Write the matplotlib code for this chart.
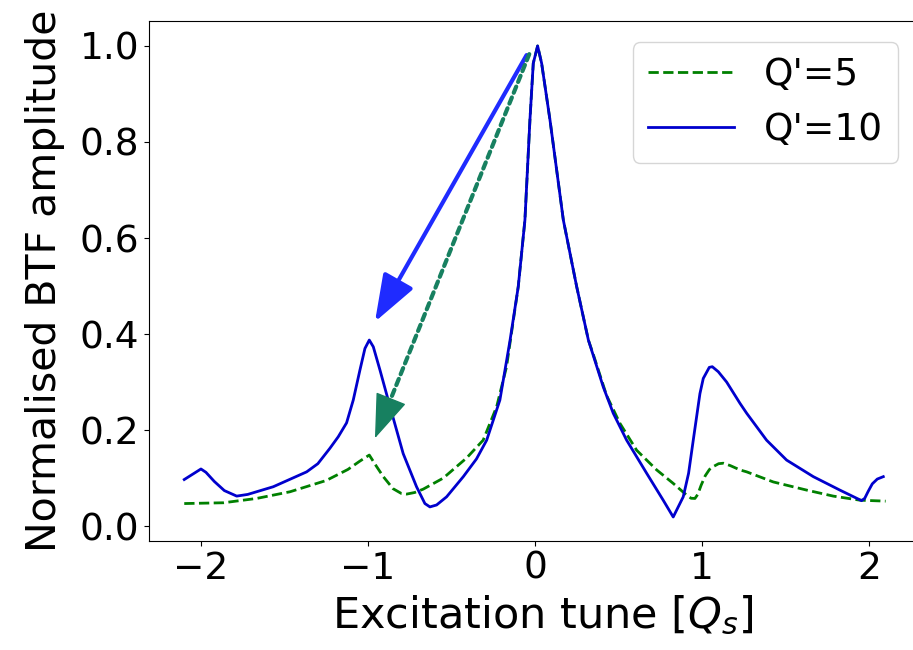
import matplotlib
matplotlib.use("Agg")
import matplotlib.pyplot as plt

# Q'=10 (solid blue)
tune_q10 = [-2.1, -2.05, -2.0, -1.97, -1.92, -1.86, -1.786, -1.72, -1.567,
            -1.367, -1.30, -1.228, -1.178, -1.128, -1.088, -1.048, -1.018,
            -0.992, -0.968, -0.928, -0.868, -0.789, -0.709, -0.659, -0.629,
            -0.589, -0.529, -0.429, -0.35, -0.289, -0.21, -0.15, -0.10,
            -0.06, -0.03, -0.01, 0.016, 0.04, 0.09, 0.17, 0.25, 0.32, 0.409,
            0.469, 0.549, 0.669, 0.768, 0.828, 0.888, 0.92, 0.948, 0.988,
            1.008, 1.044, 1.062, 1.098, 1.148, 1.228, 1.268, 1.387, 1.507,
            1.667, 1.826, 1.956, 1.975, 1.995, 2.02, 2.05, 2.086]
amp_q10 = [0.097, 0.108, 0.119, 0.112, 0.093, 0.074, 0.0625, 0.066, 0.082,
           0.113, 0.13, 0.162, 0.186, 0.215, 0.2625, 0.325, 0.370,
           0.3875, 0.3735, 0.325, 0.249, 0.151, 0.082, 0.047, 0.040,
           0.044, 0.061, 0.103, 0.14, 0.179, 0.2625, 0.385, 0.4986,
           0.6375, 0.846, 0.964, 1.0, 0.964, 0.846, 0.6375, 0.4986, 0.3875,
           0.29, 0.235, 0.179, 0.110, 0.054, 0.019, 0.061, 0.11, 0.179,
           0.276, 0.3076, 0.3306, 0.332, 0.3215, 0.300, 0.2556, 0.235, 0.179,
           0.1375, 0.103, 0.075, 0.053, 0.058, 0.072, 0.088, 0.098, 0.103]

# Q'=5 (dashed green)
tune_q5 = [-2.1, -1.866, -1.667, -1.467, -1.25, -1.12, -1.05, -0.992, -0.95,
           -0.908, -0.85, -0.80, -0.768, -0.72, -0.669, -0.549, -0.409,
           -0.31, -0.229, -0.17, -0.10, -0.06, -0.03, -0.01, 0.016, 0.04,
           0.09, 0.17, 0.25, 0.32, 0.349, 0.429, 0.509, 0.609, 0.729, 0.828,
           0.908, 0.935, 0.958, 0.975, 0.995, 1.02, 1.045, 1.068, 1.10, 1.128,
           1.17, 1.228, 1.268, 1.427, 1.627, 1.786, 1.946, 2.1]
amp_q5 = [0.047, 0.0486, 0.0576, 0.0715, 0.095, 0.118, 0.135, 0.148, 0.125,
          0.103, 0.078, 0.068, 0.0667, 0.070, 0.077, 0.100, 0.142,
          0.179, 0.249, 0.332, 0.4986, 0.6375, 0.846, 0.964, 1.0, 0.964,
          0.846, 0.6375, 0.4986, 0.3875, 0.358, 0.272, 0.214, 0.158, 0.117,
          0.089, 0.0646, 0.058, 0.0576, 0.066, 0.085, 0.105, 0.118, 0.124,
          0.13, 0.131, 0.126, 0.117, 0.113, 0.092, 0.075, 0.0625, 0.054,
          0.052]

# arrows: (tail, tip) in data coords
arrow_q10 = ((-0.05, 0.981), (-0.958, 0.4256))
arrow_q5 = ((-0.034, 0.983), (-0.958, 0.183))

fs = 27
plt.rcParams['font.size'] = fs

fig = plt.figure(figsize=(9.13, 6.5), dpi=100)
# x scale: 167 px per unit, axes runs past the right edge of the figure
ax = fig.add_axes([0.1634, 0.1677, 0.8615, 0.80])
ax.spines['right'].set_visible(False)

ax.plot(tune_q5, amp_q5, color='green', linestyle='--', linewidth=2,
        label="Q'=5")
ax.plot(tune_q10, amp_q10, color='mediumblue', linewidth=2,
        label="Q'=10")

head = 'head_length=2.9,head_width=1.05'
ax.annotate('', xy=arrow_q10[1], xytext=arrow_q10[0],
            arrowprops=dict(arrowstyle='-|>,' + head, mutation_scale=10,
                            lw=3, color='#1f2bff', shrinkA=0, shrinkB=0),
            zorder=5)

# dotted shaft, then a solid head on the last bit of the same line
(x0, y0), (x1, y1) = arrow_q5
ax.annotate('', xy=(x1, y1), xytext=(x0, y0),
            arrowprops=dict(arrowstyle='-', lw=3, color='#178060',
                            linestyle=(0, (1.6, 1.2)),
                            shrinkA=0, shrinkB=28), zorder=5)
f = 0.93
ax.annotate('', xy=(x1, y1), xytext=(x0 + f * (x1 - x0), y0 + f * (y1 - y0)),
            arrowprops=dict(arrowstyle='-|>,' + head, mutation_scale=10,
                            lw=1, color='#178060', shrinkA=0, shrinkB=0),
            zorder=5)

ax.set_xlim(-2.31, 2.40)
ax.set_ylim(-0.031, 1.052)
ax.set_xticks([-2, -1, 0, 1, 2])
ax.set_yticks([0.0, 0.2, 0.4, 0.6, 0.8, 1.0])
ax.set_xlabel("Excitation tune [$Q_s$]", fontsize=31, labelpad=5)
ax.set_ylabel("Normalised BTF amplitude", fontsize=29.5, labelpad=11)
ax.legend(loc='upper right', handlelength=2.3, borderaxespad=0,
          bbox_to_anchor=(898 / 913, 1 - 42 / 650),
          bbox_transform=fig.transFigure)

fig.savefig("out.png", dpi=100)
